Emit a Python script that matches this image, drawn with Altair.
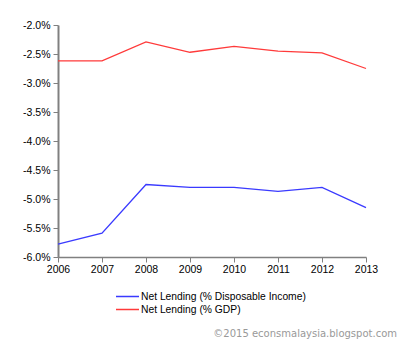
import altair as alt
import pandas as pd

years = [2006, 2007, 2008, 2009, 2010, 2011, 2012, 2013]
disposable = [-5.78, -5.59, -4.75, -4.80, -4.80, -4.87, -4.80, -5.15]
gdp = [-2.62, -2.62, -2.29, -2.47, -2.37, -2.45, -2.48, -2.75]
series_names = ["Net Lending (% Disposable Income)", "Net Lending (% GDP)"]
series_colors = ["#3a3aff", "#ff3a3a"]
y_ticks = [-6.0, -5.5, -5.0, -4.5, -4.0, -3.5, -3.0, -2.5, -2.0]
watermark = ["©2015 econsmalaysia.blogspot.com"]

rows = []
for y, a, b in zip(years, disposable, gdp):
    rows.append({"year": y, "value": a, "series": series_names[0]})
    rows.append({"year": y, "value": b, "series": series_names[1]})
df = pd.DataFrame(rows)

font = "Liberation Sans"

lines = (
    alt.Chart(df)
    .mark_line(strokeWidth=1.3)
    .encode(
        x=alt.X(
            "year:Q",
            scale=alt.Scale(domain=[2006, 2013], nice=False, zero=False),
            axis=alt.Axis(
                values=years, format="d", title=None, grid=False,
                domainColor="#808080", domainWidth=1.5, tickColor="#808080",
                tickSize=5, labelPadding=2, labelFont=font, labelFontSize=10.5,
                labelColor="#000000", labelFlush=False,
            ),
        ),
        y=alt.Y(
            "value:Q",
            scale=alt.Scale(domain=[-6, -2], nice=False, zero=False),
            axis=alt.Axis(
                values=y_ticks,
                labelExpr="(datum.value < 0 ? '-' : '') + format(abs(datum.value), '.1f') + '%'",
                title=None, grid=False,
                domainColor="#808080", domainWidth=2, tickColor="#808080",
                tickSize=5, labelPadding=3, labelFont=font, labelFontSize=10.5,
                labelColor="#000000",
            ),
        ),
        color=alt.Color(
            "series:N",
            scale=alt.Scale(domain=series_names, range=series_colors),
            legend=alt.Legend(
                title=None, orient="none", legendX=57, legendY=265,
                symbolType="stroke", symbolSize=529, symbolStrokeWidth=1.5,
                labelFont=font, labelFontSize=10.3, labelColor="#000000",
                rowPadding=0, clipHeight=13, labelOffset=1, padding=0,
                labelLimit=400,
            ),
        ),
    )
)

mark_text = (
    alt.Chart(pd.DataFrame({"t": watermark}))
    .mark_text(
        align="right", baseline="middle", font="DejaVu Sans", fontSize=10,
        color="#999999",
    )
    .encode(text="t:N", x=alt.value(339), y=alt.value(309))
)

chart = (
    alt.layer(lines, mark_text)
    .properties(
        width=308,
        height=232,
        autosize=alt.AutoSizeParams(type="none"),
        padding={"left": 58, "top": 25, "right": 34, "bottom": 83},
    )
    .configure_view(stroke=None)
)

chart.save("out.html", embed_options={"renderer": "svg", "actions": False})
